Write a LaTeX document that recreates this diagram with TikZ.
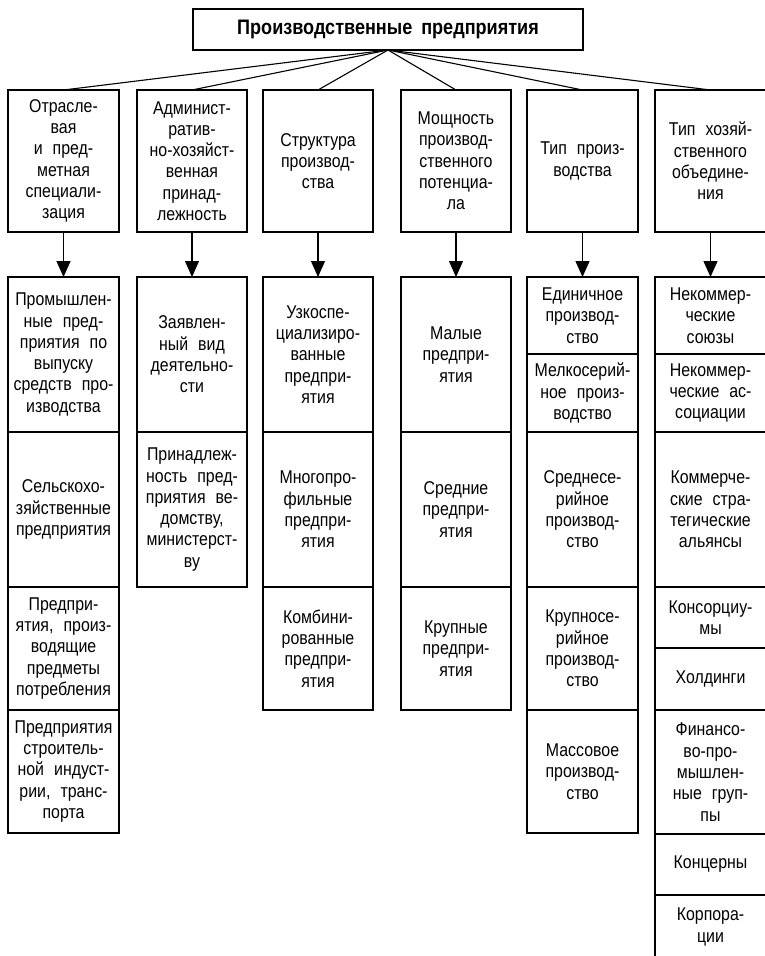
\documentclass[tikz,border=0pt]{standalone}
\usepackage{fontspec}
\setmainfont[FakeStretch=0.86]{Liberation Sans}
\usetikzlibrary{arrows.meta}
\newcommand\bx[6]{\node[boxst, minimum width={#3pt-#2pt}, minimum height={#5pt-#4pt}] (#1) at ({(#2+#3)/2},{(#4+#5)/2}) {#6};}
\newcommand\bodyfnt{\fontsize{18.5}{21.3}\selectfont\spaceskip=10pt\relax}
\newcommand\titlefnt{\fontsize{21}{24}\selectfont\bfseries\spaceskip=9pt\relax}
\begin{document}
\begin{tikzpicture}[x=1pt,y=-1pt,
  boxst/.style={draw, line width=1.35pt, align=center, inner sep=0pt, outer sep=0pt,
    font=\bodyfnt},
  titlest/.style={boxst, font=\titlefnt},
  link/.style={line width=1.1pt},
  arr/.style={line width=1.2pt, -{Triangle[length=16pt,width=14pt]}}]
\useasboundingbox (0,0) rectangle (765,956);
% top
\node[titlest, minimum width=390pt, minimum height=41pt] (t) at (388,29.5) {Производственные предприятия};
% headers
\bx{h1}{8}{119}{90}{232}{Отрасле-\\вая\\и пред-\\метная\\специали-\\зация}
\bx{h2}{137}{247}{90}{232}{Админист-\\ратив-\\но-хозяйст-\\венная\\принад-\\лежность}
\bx{h3}{263}{373}{90}{232}{Структура\\производ-\\ства}
\bx{h4}{401}{511}{90}{232}{Мощность\\производ-\\ственного\\потенциа-\\ла}
\bx{h5}{527}{638}{90}{232}{Тип произ-\\водства}
\bx{h6}{655}{766}{90}{232}{Тип хозяй-\\ственного\\объедине-\\ния}
% column 1
\bx{a1}{8}{119}{277}{432}{Промышлен-\\ные пред-\\приятия по\\выпуску\\средств про-\\изводства}
\bx{a2}{8}{119}{432}{587}{Сельскохо-\\зяйственные\\предприятия}
\bx{a3}{8}{119}{587}{710}{Предпри-\\ятия, произ-\\водящие\\предметы\\потребления}
\bx{a4}{8}{119}{710}{833}{Предприятия\\строитель-\\ной индуст-\\рии, транс-\\порта}
% column 2
\bx{b1}{137}{247}{277}{432}{Заявлен-\\ный вид\\деятельно-\\сти}
\bx{b2}{137}{247}{432}{587}{Принадлеж-\\ность пред-\\приятия ве-\\домству,\\министерст-\\ву}
% column 3
\bx{c1}{263}{373}{277}{432}{Узкоспе-\\циализиро-\\ванные\\предпри-\\ятия}
\bx{c2}{263}{373}{432}{587}{Многопро-\\фильные\\предпри-\\ятия}
\bx{c3}{263}{373}{587}{710}{Комбини-\\рованные\\предпри-\\ятия}
% column 4
\bx{d1}{401}{511}{277}{432}{Малые\\предпри-\\ятия}
\bx{d2}{401}{511}{432}{587}{Средние\\предпри-\\ятия}
\bx{d3}{401}{511}{587}{710}{Крупные\\предпри-\\ятия}
% column 5
\bx{e1}{527}{638}{277}{354}{Единичное\\производ-\\ство}
\bx{e2}{527}{638}{354}{432}{Мелкосерий-\\ное произ-\\водство}
\bx{e3}{527}{638}{432}{587}{Среднесе-\\рийное\\производ-\\ство}
\bx{e4}{527}{638}{587}{710}{Крупносе-\\рийное\\производ-\\ство}
\bx{e5}{527}{638}{710}{833}{Массовое\\производ-\\ство}
% column 6
\bx{f1}{655}{766}{277}{354}{Некоммер-\\ческие\\союзы}
\bx{f2}{655}{766}{354}{432}{Некоммер-\\ческие ас-\\социации}
\bx{f3}{655}{766}{432}{587}{Коммерче-\\ские стра-\\тегические\\альянсы}
\bx{f4}{655}{766}{587}{648}{Консорциу-\\мы}
\bx{f5}{655}{766}{648}{710}{Холдинги}
\bx{f6}{655}{766}{710}{834}{Финансо-\\во-про-\\мышлен-\\ные груп-\\пы}
\bx{f7}{655}{766}{834}{895}{Концерны}
\bx{f8}{655}{766}{895}{959}{Корпора-\\ции}
% links
\foreach \h in {h1,h2,h3,h4,h5,h6} \draw[link] (t.south) -- (\h.north);
\draw[arr] (h1.south) -- (a1.north);
\draw[arr] (h2.south) -- (b1.north);
\draw[arr] (h3.south) -- (c1.north);
\draw[arr] (h4.south) -- (d1.north);
\draw[arr] (h5.south) -- (e1.north);
\draw[arr] (h6.south) -- (f1.north);
\end{tikzpicture}
\end{document}
